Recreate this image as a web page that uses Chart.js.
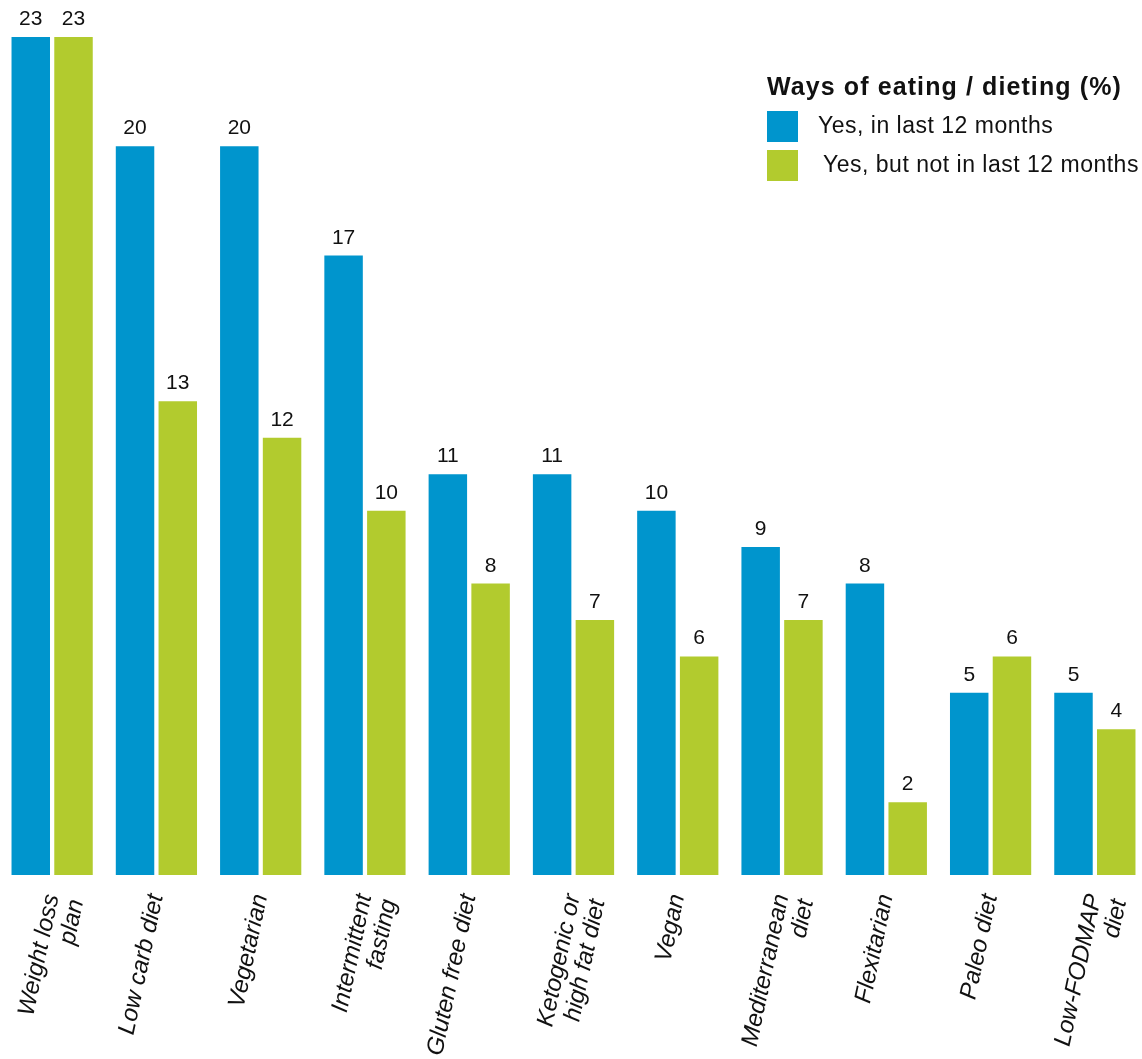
<!DOCTYPE html>
<html>
<head>
<meta charset="utf-8">
<script src="https://cdn.jsdelivr.net/npm/chart.js@4/dist/chart.umd.min.js"></script>
<style>
  html, body { margin: 0; padding: 0; background: #fff; overflow: hidden; }
  #wrap { position: relative; width: 1147px; height: 1059px; }
</style>
</head>
<body>
<div id="wrap"><canvas id="dietChart"></canvas></div>
<script>
// Categorias del eje X (multilinea donde hace falta)
const dietas = [
  ['Weight loss', 'plan'], 'Low carb diet', 'Vegetarian', ['Intermittent', 'fasting'],
  'Gluten free diet', ['Ketogenic or', 'high fat diet'], 'Vegan', ['Mediterranean', 'diet'],
  'Flexitarian', 'Paleo diet', ['Low-FODMAP', 'diet']
];

// Porcentajes por serie
const ultimos12 = [23, 20, 20, 17, 11, 11, 10, 9, 8, 5, 5];
const antes12 = [23, 13, 12, 10, 8, 7, 6, 7, 2, 6, 4];

const seriesNombres = ['Yes, in last 12 months', 'Yes, but not in last 12 months'];
const tituloLeyenda = 'Ways of eating / dieting (%)';

const AZUL = 'rgb(0, 149, 205)';
const VERDE = 'rgb(178, 203, 46)';
const FUENTE = '"Liberation Sans", Arial, Helvetica, sans-serif';

// Numeros encima de cada barra
const etiquetasValor = {
  id: 'etiquetasValor',
  afterDatasetsDraw(chart) {
    const ctx = chart.ctx;
    ctx.save();
    ctx.font = '21px ' + FUENTE;
    ctx.fillStyle = '#111';
    ctx.textAlign = 'center';
    ctx.textBaseline = 'alphabetic';
    chart.data.datasets.forEach((ds, i) => {
      chart.getDatasetMeta(i).data.forEach((bar, j) => {
        ctx.fillText(String(ds.data[j]), bar.x, bar.y - 12);
      });
    });
    ctx.restore();
  }
};

// Leyenda con titulo arriba a la derecha
const leyenda = {
  id: 'leyenda',
  afterDraw(chart) {
    const ctx = chart.ctx;
    ctx.save();
    ctx.fillStyle = '#111';
    ctx.textBaseline = 'alphabetic';
    ctx.textAlign = 'left';
    ctx.font = 'bold 25px ' + FUENTE;
    ctx.letterSpacing = '1.1px';
    ctx.fillText(tituloLeyenda, 767, 95);
    ctx.font = '23px ' + FUENTE;
    ctx.letterSpacing = '0.5px';
    ctx.textBaseline = 'middle';
    const textoX = [818, 823];
    chart.data.datasets.forEach((ds, i) => {
      const y = 111 + i * 39;
      ctx.fillStyle = ds.backgroundColor;
      ctx.fillRect(767, y, 31, 31);
      ctx.fillStyle = '#111';
      ctx.fillText(ds.label, textoX[i], y + 16);
    });
    ctx.restore();
  }
};

const config = {
  type: 'bar',
  data: {
    labels: dietas,
    datasets: [
      { label: seriesNombres[0], data: ultimos12, backgroundColor: AZUL },
      { label: seriesNombres[1], data: antes12, backgroundColor: VERDE }
    ]
  },
  options: {
    responsive: false,
    animation: false,
    devicePixelRatio: 1,
    layout: { padding: { top: 37, left: 0, right: 0, bottom: 0 } },
    datasets: {
      bar: { barPercentage: 0.9, categoryPercentage: 0.82 }
    },
    plugins: {
      legend: { display: false },
      tooltip: { enabled: false }
    },
    scales: {
      x: {
        grid: { display: false, drawTicks: false },
        border: { display: false },
        afterFit(scale) {
          scale.height = 184;
          scale.paddingLeft = 0;
          scale.paddingRight = 0;
        },
        ticks: {
          autoSkip: false,
          minRotation: 78,
          maxRotation: 78,
          padding: 17,
          color: '#111',
          font: { family: FUENTE, size: 24, style: 'italic', lineHeight: 1.05 }
        }
      },
      y: {
        display: false,
        min: 0,
        max: 23
      }
    }
  },
  plugins: [etiquetasValor, leyenda]
};

const canvas = document.getElementById('dietChart');
canvas.width = 1147;
canvas.height = 1059;
const grafico = new Chart(canvas.getContext('2d'), config);
</script>
</body>
</html>
